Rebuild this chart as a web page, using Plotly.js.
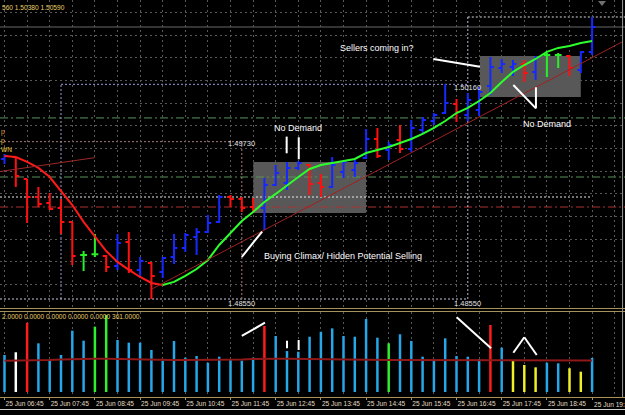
<!DOCTYPE html>
<html><head><meta charset="utf-8">
<script src="https://cdn.plot.ly/plotly-3.0.1.min.js"></script>
<style>html,body{margin:0;padding:0;background:#000;overflow:hidden}#chart{width:625px;height:415px}</style>
</head><body><div id="chart"></div>
<script>
// 15-minute bars, 25 Jun
const times = ["06:45","07:00","07:15","07:30","07:45","08:00","08:15","08:30","08:45","09:00","09:15","09:30","09:45","10:00","10:15","10:30","10:45","11:00","11:15","11:30","11:45","12:00","12:15","12:30","12:45","13:00","13:15","13:30","13:45","14:00","14:15","14:30","14:45","15:00","15:15","15:30","15:45","16:00","16:15","16:30","16:45","17:00","17:15","17:30","17:45","18:00","18:15","18:30","18:45","19:00","19:15","19:30","19:45"];
const tickLabels = ["25 Jun 06:45","25 Jun 07:45","25 Jun 08:45","25 Jun 09:45","25 Jun 10:45","25 Jun 11:45","25 Jun 12:45","25 Jun 13:45","25 Jun 14:45","25 Jun 15:45","25 Jun 16:45","25 Jun 17:45","25 Jun 18:45","25 Jun 19:45"];
const tickIdx = [0,4,8,12,16,20,24,28,32,36,40,44,48,52];

const openP  = [1.49600,1.49615,1.49450,1.49315,1.49270,1.49233,1.49128,1.48880,1.48885,1.48873,1.48798,1.48978,1.48768,1.48820,1.48753,1.48865,1.48933,1.49015,1.49053,1.49128,1.49315,1.49300,1.49240,1.49233,1.49405,1.49420,1.49533,1.49555,1.49420,1.49390,1.49503,1.49518,1.49608,1.49750,1.49668,1.49743,1.49675,1.49818,1.49885,1.49945,1.50013,1.49930,1.49968,1.50148,1.50283,1.50290,1.50313,1.50253,1.50380,1.50380,1.50373,1.50268,1.50403];
const highP  = [1.49638,1.49615,1.49450,1.49390,1.49345,1.49300,1.49128,1.48910,1.49038,1.48880,1.49038,1.49053,1.48865,1.48828,1.48865,1.49038,1.49045,1.49083,1.49180,1.49330,1.49330,1.49315,1.49308,1.49458,1.49555,1.49578,1.49585,1.49563,1.49488,1.49615,1.49593,1.49593,1.49825,1.49833,1.49730,1.49855,1.49893,1.49915,1.49945,1.50160,1.50050,1.50095,1.50140,1.50365,1.50350,1.50343,1.50343,1.50373,1.50395,1.50395,1.50380,1.50410,1.50665];
const lowP   = [1.49563,1.49390,1.49120,1.49240,1.49218,1.49038,1.48805,1.48760,1.48865,1.48753,1.48768,1.48745,1.48708,1.48550,1.48708,1.48813,1.48903,1.48880,1.49045,1.49120,1.49240,1.49203,1.49195,1.49068,1.49398,1.49368,1.49518,1.49330,1.49315,1.49383,1.49458,1.49465,1.49600,1.49608,1.49593,1.49645,1.49653,1.49788,1.49855,1.49938,1.49878,1.49885,1.49923,1.50080,1.50245,1.50223,1.50178,1.50193,1.50215,1.50283,1.50223,1.50245,1.50380];
const closeP = [1.49623,1.49473,1.49315,1.49263,1.49225,1.49128,1.48873,1.48880,1.48885,1.48790,1.48970,1.48768,1.48835,1.48723,1.48858,1.48933,1.49030,1.49053,1.49120,1.49315,1.49300,1.49233,1.49218,1.49405,1.49495,1.49533,1.49570,1.49413,1.49390,1.49555,1.49578,1.49570,1.49750,1.49623,1.49705,1.49675,1.49833,1.49893,1.49930,1.50020,1.49953,1.50043,1.50103,1.50290,1.50313,1.50313,1.50245,1.50358,1.50380,1.50380,1.50283,1.50403,1.50590];
const maPrice = [1.49623,1.49615,1.49578,1.49533,1.49465,1.49360,1.49255,1.49128,1.49015,1.48910,1.48828,1.48768,1.48715,1.48670,1.48655,1.48678,1.48723,1.48775,1.48843,1.48955,1.49045,1.49135,1.49203,1.49278,1.49338,1.49405,1.49465,1.49525,1.49555,1.49570,1.49585,1.49600,1.49645,1.49668,1.49690,1.49720,1.49750,1.49788,1.49833,1.49885,1.49945,1.49983,1.50035,1.50095,1.50178,1.50253,1.50305,1.50350,1.50403,1.50433,1.50448,1.50470,1.50485];

const volume = [393,422,736,517,340,393,651,545,694,818,552,524,524,446,333,542,365,382,311,375,340,333,365,701,595,435,428,587,640,676,595,587,775,577,517,613,542,375,340,570,382,375,350,712,471,333,287,262,311,305,252,216,361];
const volumeKind = ['s','w','r','s','s','s','s','s','g','g','s','s','s','s','s','s','s','s','s','s','s','s','s','r','s','s','s','s','s','s','s','s','s','s','g','s','s','s','s','s','s','s','s','r','s','y','y','y','s','s','y','y','s'];
const volumeMA = [333,333,334,336,340,345,350,354,354,352,349,347,345,343,341,340,340,340,340,341,343,346,350,354,354,352,350,347,347,347,346,345,344,342,341,340,340,340,339,338,337,336,335,334,333,333,333,333,333,333,333,333,334];

const priceGrid = [1.48660,1.48830,1.49000,1.49170,1.49340,1.49510,1.49680,1.49850,1.50020,1.50190,1.50360,1.50530,1.50700];
const levels = {bid:1.50590, dayHigh:1.50665, hi1:1.50160, hi0:1.49730, lo:1.48550, green1:1.49908, green2:1.49465, white:1.49315, red:1.49240};

const palette = {s:'#24a8ea', w:'#ffffff', r:'#ff1c1c', g:'#30ee30', y:'#f0f028'};
const GRID = '#575757', TAN = '#a8945a';
const X0 = -0.3982, X1 = 54.9115;
const barX = times.map((t,i)=>i);

function ohlcSub(pred, color){
  const idx = barX.filter(i=>pred(openP[i], closeP[i]));
  return {type:'ohlc', x:idx, open:idx.map(i=>openP[i]), high:idx.map(i=>highP[i]), low:idx.map(i=>lowP[i]), close:idx.map(i=>closeP[i]),
    xaxis:'x', yaxis:'y', tickwidth:0.3, hoverinfo:'skip', showlegend:false,
    increasing:{line:{color:color, width:2}}, decreasing:{line:{color:color, width:2}}};
}
const turn = maPrice.indexOf(Math.min(...maPrice));

const traces = [
  ohlcSub((o,c)=>c>o, '#1428ff'),
  ohlcSub((o,c)=>c<o, '#ff1010'),
  ohlcSub((o,c)=>c===o, '#28f028'),
  {type:'scatter', mode:'lines', x:barX.slice(0,turn+1), y:maPrice.slice(0,turn+1), line:{color:'#ff1a1a', width:2}, hoverinfo:'skip', xaxis:'x', yaxis:'y'},
  {type:'scatter', mode:'lines', x:barX.slice(turn), y:maPrice.slice(turn), line:{color:'#2cff2c', width:2}, hoverinfo:'skip', xaxis:'x', yaxis:'y'},
  {type:'bar', x:barX, y:volume, width:0.22, marker:{color:volumeKind.map(k=>palette[k]), line:{width:0}}, hoverinfo:'skip', xaxis:'x', yaxis:'y2'},
  {type:'scatter', mode:'lines', x:barX, y:volumeMA, line:{color:'#901818', width:2}, hoverinfo:'skip', xaxis:'x', yaxis:'y2'}
];

function hline(y, color, dash, x0, x1, layer){
  return {type:'line', xref:'x', yref:'y', x0:(x0===undefined?X0:x0), x1:(x1===undefined?X1:x1), y0:y, y1:y, line:{color:color, width:1, dash:dash||'solid'}, layer:layer||'below'};
}
function vline(x, y0, y1, color, dash){
  return {type:'line', xref:'x', yref:'y', x0:x, x1:x, y0:y0, y1:y1, line:{color:color, width:1, dash:dash}, layer:'below'};
}
function seg(x0,y0,x1,y1,yref,color,w){
  return {type:'line', xref:'x', yref:yref, x0:x0, y0:y0, x1:x1, y1:y1, line:{color:color||'#ffffff', width:w||2}, layer:'above'};
}
const DD = '8px,3px,2px,3px', DOT='2px,2px';
const shapes = [
  {type:'rect', xref:'x', yref:'y', x0:22.02, x1:31.99, y0:1.49195, y1:1.49578, fillcolor:'#585858', line:{width:0}, layer:'below'},
  {type:'rect', xref:'x', yref:'y', x0:42.08, x1:51.0, y0:1.50065, y1:1.50373, fillcolor:'#585858', line:{width:0}, layer:'below'},
  hline(levels.bid, '#686868', 'solid'),
  hline(levels.green1, '#5a925a', DD),
  hline(levels.green2, '#5a925a', DD),
  hline(levels.white, '#e8e8e8', DOT, X0, 51.9),
  hline(levels.red, '#b03030', DD),
  hline(levels.hi1, '#9c9cd4', DOT, 5, 41),
  vline(5, levels.lo, levels.hi1, '#9c9cd4', DOT),
  vline(41, levels.lo, levels.dayHigh, '#b8b8dc', DOT),
  hline(levels.dayHigh, '#d8d8d8', DOT, 41, X1),
  hline(levels.lo, '#c8c8dc', DOT, X0, 41),
  hline(levels.hi0, '#a87a7a', DOT, X0, 21),
  vline(21, levels.lo, levels.hi0, '#a87a7a', DOT),
  // trend lines
  seg(13.05, 1.48625, 54.65, 1.50478, 'y', '#a02020', 1),
  seg(X0, 1.49506, 7.99, 1.49610, 'y', '#a02828', 1),
  // white markup in price pane
  seg(21.0, 1.48865, 22.8, 1.49056, 'y'),
  seg(24.97, 1.49643, 24.97, 1.49768, 'y'),
  seg(26.04, 1.49598, 26.04, 1.49763, 'y'),
  seg(37.95, 1.50350, 42.08, 1.50292, 'y'),
  seg(45.03, 1.50155, 47.03, 1.49980, 'y'),
  seg(47.03, 1.49980, 47.03, 1.50138, 'y'),
  // white markup in volume pane
  seg(21.0, 595, 23.05, 736, 'y2'),
  seg(25.0, 464, 25.0, 545, 'y2'),
  seg(26.03, 446, 26.03, 552, 'y2'),
  seg(40.02, 793, 43.06, 464, 'y2'),
  seg(45.03, 417, 46.0, 581, 'y2'),
  seg(46.0, 581, 47.1, 393, 'y2'),
  // pane borders
  {type:'line', xref:'paper', yref:'paper', x0:0, x1:1, y0:0.25663, y1:0.25663, line:{color:TAN, width:1}},
  {type:'line', xref:'paper', yref:'paper', x0:0, x1:1, y0:0.24940, y1:0.24940, line:{color:TAN, width:1}},
  {type:'line', xref:'paper', yref:'paper', x0:0, x1:1, y0:0.013253, y1:0.013253, line:{color:'#d0d0d0', width:1}},
  {type:'line', xref:'paper', yref:'paper', x0:0.9961, x1:0.9961, y0:0.0434, y1:1, line:{color:'#9a9a9a', width:1}},
  {type:'path', xref:'paper', yref:'paper', path:'M 0.9568 0.9976 L 0.9696 0.9976 L 0.9632 0.9855 Z', fillcolor:'#707070', line:{width:0}}
];

const F = 'Liberation Sans, Arial, sans-serif';
function note(x, y, text, opts){
  return Object.assign({x:x, y:y, xref:'x', yref:'y', text:text, showarrow:false, xanchor:'center', yanchor:'middle',
    font:{family:F, size:9, color:'#ffffff'}, borderpad:0}, opts||{});
}
const small = {family:F, size:7.5, color:'#e0e0e0'};
const gold = {family:F, size:6.6, color:'#e8cf6a'};
const tickFont = {family:F, size:6.6, color:'#e2dcc4'};
const lastTick = tickIdx.length - 1;
const annotations = [
  note(26.0, 1.49833, 'No Demand'),
  note(22.85, 1.48875, 'Buying Climax/ Hidden Potential Selling', {xanchor:'left'}),
  note(36.35, 1.50433, 'Sellers coming in?', {xanchor:'right'}),
  note(48.0, 1.49863, 'No Demand'),
  note(21, 1.49713, levels.hi0.toFixed(5), {font:small}),
  note(21, 1.48520, levels.lo.toFixed(5), {font:small}),
  note(41, 1.48520, levels.lo.toFixed(5), {font:small}),
  note(41, 1.50140, levels.hi1.toFixed(5), {font:small}),
  {xref:'paper', yref:'paper', x:0.002, y:0.98193, xanchor:'left', yanchor:'middle', showarrow:false, borderpad:0,
   text:'560 ' + lowP[52].toFixed(5) + ' ' + closeP[52].toFixed(5), font:gold},
  {xref:'paper', yref:'paper', x:0.0, y:0.68193, xanchor:'left', yanchor:'middle', showarrow:false, borderpad:0, text:'p', font:{family:F, size:6.6, color:'#e09a3a'}},
  {xref:'paper', yref:'paper', x:0.0, y:0.66024, xanchor:'left', yanchor:'middle', showarrow:false, borderpad:0, text:'p', font:{family:F, size:6.6, color:'#e0b43a'}},
  {xref:'paper', yref:'paper', x:0.0, y:0.64096, xanchor:'left', yanchor:'middle', showarrow:false, borderpad:0, text:'WN', font:{family:F, size:6.6, color:'#e8d040'}},
  {xref:'paper', yref:'paper', x:0.0008, y:0.23855, xanchor:'left', yanchor:'middle', showarrow:false, borderpad:0,
   text:'2.0000 0.0000 0.0000 0.0000 0.0000 ' + volume[52].toFixed(4), font:gold},
  // last time label runs past the right edge, as in the reference, so it is placed as a note
  {xref:'x', yref:'paper', x:tickIdx[lastTick], y:0.0265, xanchor:'left', yanchor:'middle', xshift:1, showarrow:false, borderpad:0,
   text:tickLabels[lastTick], font:tickFont}
];

const gridIdx = [];
for (let i = 0; i <= 54; i += 2) gridIdx.push(i);

const layout = {
  width:625, height:415, margin:{l:0,r:0,t:0,b:0},
  paper_bgcolor:'#000000', plot_bgcolor:'#000000', showlegend:false,
  xaxis:{domain:[0,1], range:[X0,X1], anchor:'y2', rangeslider:{visible:false}, fixedrange:true,
    tickmode:'array', tickvals:tickIdx, ticktext:tickLabels.map((t,i)=>i===lastTick?'':t), ticks:'outside', ticklen:2, tickcolor:TAN, tickwidth:1,
    tickangle:0, automargin:false,
    ticklabelposition:'outside right', tickfont:tickFont,
    showline:true, linecolor:TAN, linewidth:1, zeroline:false,
    showgrid:true, gridcolor:GRID, griddash:'2px,3px', gridwidth:1,
    minor:{tickmode:'array', tickvals:gridIdx, showgrid:true, gridcolor:GRID, griddash:'2px,3px', gridwidth:1, ticks:''}},
  yaxis:{domain:[0.257831,1], range:[1.484825,1.507925], tickmode:'array', tickvals:priceGrid, showticklabels:false, ticks:'',
    showgrid:true, gridcolor:GRID, griddash:'2px,3px', gridwidth:1, zeroline:false, showline:false, fixedrange:true},
  yaxis2:{domain:[0.043373,0.248193], range:[-53.1,849.6], showgrid:false, showticklabels:false, ticks:'', zeroline:false, showline:false, fixedrange:true},
  shapes:shapes, annotations:annotations
};

Plotly.newPlot('chart', traces, layout, {staticPlot:true, displayModeBar:false});
</script>
</body></html>
